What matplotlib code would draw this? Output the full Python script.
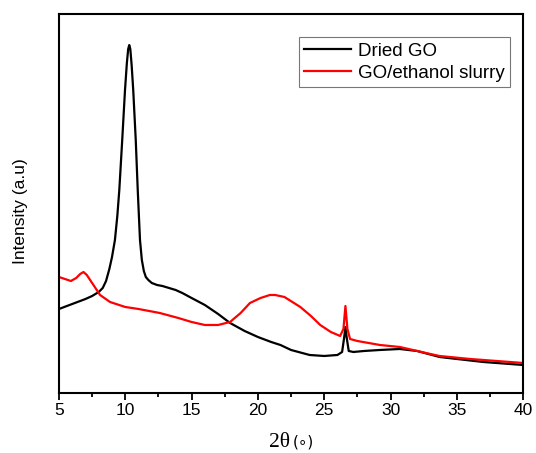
import matplotlib
matplotlib.use("Agg")
import matplotlib.pyplot as plt
from matplotlib.ticker import MultipleLocator

# Dried GO pattern (arbitrary intensity units)
dried_x = [5.0, 6.0, 7.0, 7.5, 8.0, 8.3, 8.55, 8.8, 9.0, 9.22, 9.4, 9.55, 9.77, 9.98, 10.12,
           10.22, 10.3, 10.38, 10.48, 10.6, 10.79, 10.94, 11.11, 11.25, 11.4, 11.55, 11.74,
           12.0, 12.4, 12.8, 13.3, 13.8, 14.3, 15.0, 16.0, 17.0, 17.9, 19.0, 20.0, 21.0,
           21.7, 22.5, 23.9, 25.0, 26.0, 26.35, 26.5, 26.6, 26.7, 26.85, 27.2, 28.0, 29.2,
           30.7, 32.0, 33.7, 35.0, 37.0, 40.0]
dried_y = [84, 89, 94, 97, 101, 105, 112, 124, 136, 153, 177, 203, 253, 303, 330,
           344, 348, 344, 328, 303, 253, 203, 153, 133, 122, 116, 113,
           110, 108, 107, 105, 103, 100, 95, 88, 79, 70, 62, 56, 51,
           48, 43, 38, 37, 38, 41, 55, 66, 55, 42, 41, 42, 43,
           44, 42, 36, 34, 31, 28]

# GO/ethanol slurry pattern
slurry_x = [5.0, 5.45, 5.9, 6.3, 6.6, 6.85, 7.1, 7.5, 8.1, 8.85, 10.0, 11.0, 12.6, 14.0,
            15.0, 16.0, 17.0, 17.9, 18.7, 19.4, 20.2, 20.9, 21.3, 22.0, 23.2, 24.0, 24.7,
            25.5, 26.2, 26.45, 26.6, 26.75, 26.95, 27.5, 29.2, 30.7, 33.0, 33.7, 36.0,
            38.0, 40.0]
slurry_y = [116, 114, 112, 115, 119, 121, 118, 110, 98, 91, 86, 84, 80, 75,
            71, 68, 68, 71, 80, 90, 95, 98, 98, 96, 86, 77, 68,
            61, 57, 64, 87, 64, 54, 52, 48, 46, 39, 37, 34,
            32, 30]

fig = plt.figure(figsize=(5.36, 4.53), dpi=100)
ax = fig.add_axes([0.110, 0.1325, 0.866, 0.8365])

ax.plot(dried_x, dried_y, color='black', lw=1.6, label='Dried GO')
ax.plot(slurry_x, slurry_y, color='#ff0000', lw=1.6, label='GO/ethanol slurry')

ax.set_xlim(5, 40)
ax.set_ylim(0, 379)
ax.xaxis.set_major_locator(MultipleLocator(5))
ax.xaxis.set_minor_locator(MultipleLocator(2.5))
ax.tick_params(axis='x', which='major', direction='out', length=5, width=1.3,
               labelsize=12.5, pad=2)
ax.tick_params(axis='x', which='minor', direction='out', length=3, width=1.3)
ax.set_yticks([])
for lab in ax.get_xticklabels():
    lab.set_fontfamily('Liberation Sans')
for sp in ax.spines.values():
    sp.set_linewidth(1.5)

ax.set_ylabel('Intensity (a.u)', fontsize=12.5, family='Liberation Sans')
ax.yaxis.set_label_coords(-0.067, 0.48)

# x label: serif "2θ" with a small "(∘)"
ax.text(0.497, -0.142, '2θ', transform=ax.transAxes, ha='right', va='baseline',
        fontsize=15.5, family='Liberation Serif')
ax.text(0.503, -0.142, '(∘)', transform=ax.transAxes, ha='left', va='baseline',
        fontsize=11, family='DejaVu Sans')

leg = ax.legend(loc='upper right', bbox_to_anchor=(0.972, 0.939),
                prop={'family': 'Liberation Sans', 'size': 13.5},
                frameon=True, fancybox=False, edgecolor='#555555',
                handlelength=2.5, handletextpad=0.35, borderpad=0.3,
                labelspacing=0.25, borderaxespad=0)
leg.get_frame().set_linewidth(0.8)

fig.savefig('out.png', dpi=100)
